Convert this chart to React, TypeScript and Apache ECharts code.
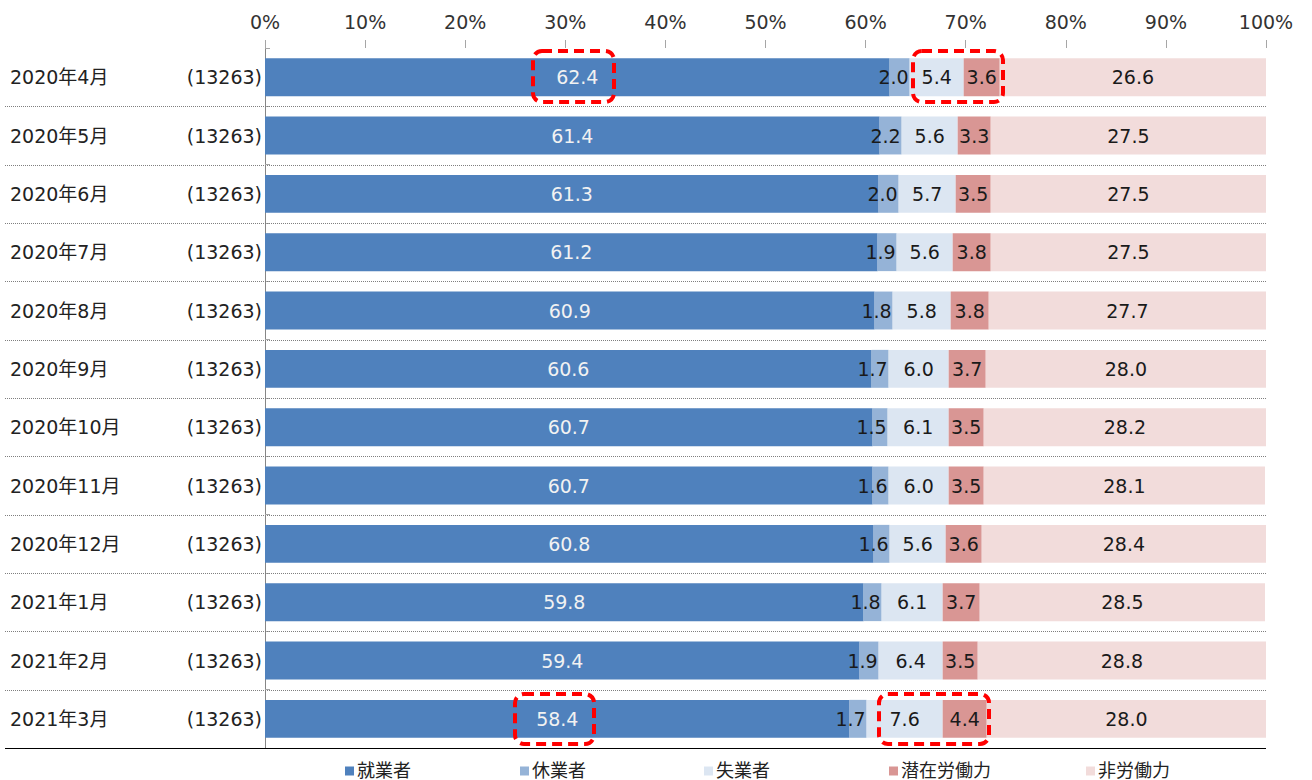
import React, { useEffect, useRef } from "react";
import * as echarts from "echarts";

const months = ["2020年4月", "2020年5月", "2020年6月", "2020年7月", "2020年8月", "2020年9月", "2020年10月", "2020年11月", "2020年12月", "2021年1月", "2021年2月", "2021年3月"];
const counts = ["(13263)", "(13263)", "(13263)", "(13263)", "(13263)", "(13263)", "(13263)", "(13263)", "(13263)", "(13263)", "(13263)", "(13263)"];
const employed = [62.4, 61.4, 61.3, 61.2, 60.9, 60.6, 60.7, 60.7, 60.8, 59.8, 59.4, 58.4];
const onLeave = [2.0, 2.2, 2.0, 1.9, 1.8, 1.7, 1.5, 1.6, 1.6, 1.8, 1.9, 1.7];
const unemployed = [5.4, 5.6, 5.7, 5.6, 5.8, 6.0, 6.1, 6.0, 5.6, 6.1, 6.4, 7.6];
const potential = [3.6, 3.3, 3.5, 3.8, 3.8, 3.7, 3.5, 3.5, 3.6, 3.7, 3.5, 4.4];
const notInLabor = [26.6, 27.5, 27.5, 27.5, 27.7, 28.0, 28.2, 28.1, 28.4, 28.5, 28.8, 28.0];
const seriesNames = ["就業者", "休業者", "失業者", "潜在労働力", "非労働力"];
const seriesColors = ["#4F81BD", "#95B3D7", "#DCE6F2", "#D99694", "#F2DCDB"];
const xTicks = [0, 10, 20, 30, 40, 50, 60, 70, 80, 90, 100];

const FONT = "'DejaVu Sans', 'Noto Sans CJK JP', sans-serif";

export default function App() {
  const ref = useRef<HTMLDivElement>(null);
  useEffect(() => {
    if (!ref.current) return;
    const chart = echarts.init(ref.current, null, { renderer: "svg" });
    const gridLeft = 265;
    const gridRight = 1266;
    const gridTop = 48;
    const gridBottom = 748;
    const band = (gridBottom - gridTop) / months.length;
    const values = [employed, onLeave, unemployed, potential, notInLabor];

    const separators: any[] = [];
    for (let i = 1; i < months.length; i++) {
      const y = Math.round(gridTop + i * band) + 0.5;
      separators.push({
        type: "line",
        shape: { x1: 5, y1: y, x2: gridRight, y2: y },
        style: { stroke: "#7f7f7f", lineWidth: 1, lineDash: [1, 1] },
        z: 1,
      });
    }
    separators.push({
      type: "line",
      shape: { x1: 5, y1: gridBottom + 0.5, x2: gridRight, y2: gridBottom + 0.5 },
      style: { stroke: "#000", lineWidth: 1.2 },
      z: 10,
    });
    const boxes = [
      [533, 51, 81, 51],
      [913, 51, 90, 51],
      [515, 694, 79, 50],
      [879, 694, 110, 50],
    ].map(([x, y, w, h]) => ({
      type: "rect",
      shape: { x, y, width: w, height: h, r: 9 },
      style: { fill: "none", stroke: "#FF0000", lineWidth: 4, lineDash: [10, 6] },
      z: 100,
    }));

    const legendLefts = [340, 515, 699, 884, 1081];

    chart.setOption({
      animation: false,
      textStyle: { fontFamily: FONT },
      grid: { left: gridLeft, right: 1312 - gridRight, top: gridTop, bottom: 780 - gridBottom, containLabel: false },
      legend: seriesNames.map((n, i) => ({
        data: [n],
        left: legendLefts[i],
        top: 757,
        itemWidth: 9,
        itemHeight: 9,
        itemGap: 4,
        icon: "rect",
        textStyle: { fontSize: 18, color: "#222", fontFamily: FONT, padding: [0, 0, 0, -2] },
        selectedMode: false,
      })),
      xAxis: {
        type: "value",
        position: "top",
        min: 0,
        max: 100,
        interval: 10,
        axisLabel: { formatter: "{value}%", fontSize: 19, color: "#333", margin: 17, fontFamily: FONT },
        axisLine: { show: false },
        axisTick: { show: true, length: 8, lineStyle: { color: "#a6a6a6" } },
        splitLine: { show: false },
      },
      yAxis: [
        {
          type: "category",
          data: counts,
          inverse: true,
          axisLine: { show: true, lineStyle: { color: "#868686", width: 1 } },
          axisTick: { show: true, inside: true, length: 5, lineStyle: { color: "#a6a6a6" } },
          axisLabel: { fontSize: 19, color: "#222", margin: 3, fontFamily: FONT },
          splitLine: { show: false },
        },
        {
          type: "category",
          data: months,
          inverse: true,
          position: "left",
          offset: 0,
          axisLine: { show: false },
          axisTick: { show: false },
          axisLabel: { fontSize: 19, color: "#222", margin: 255, align: "left", fontFamily: FONT },
          splitLine: { show: false },
        },
      ],
      series: seriesNames.map((name, i) => ({
        name,
        type: "bar",
        stack: "total",
        yAxisIndex: 0,
        barCategoryGap: "35%",
        data: values[i],
        itemStyle: { color: seriesColors[i] },
        label: {
          show: true,
          position: i === 1 ? "insideRight" : "inside",
          distance: 1,
          formatter: (p: any) => Number(p.value).toFixed(1),
          fontSize: 19,
          fontFamily: FONT,
          color: i === 0 ? "#f2f2f2" : "#1a1a1a",
        },
      })),
      graphic: [...separators, ...boxes],
    });
    return () => chart.dispose();
  }, []);
  return <div ref={ref} style={{ position: "absolute", left: 0, top: 0, width: 1312, height: 780 }} />;
}
